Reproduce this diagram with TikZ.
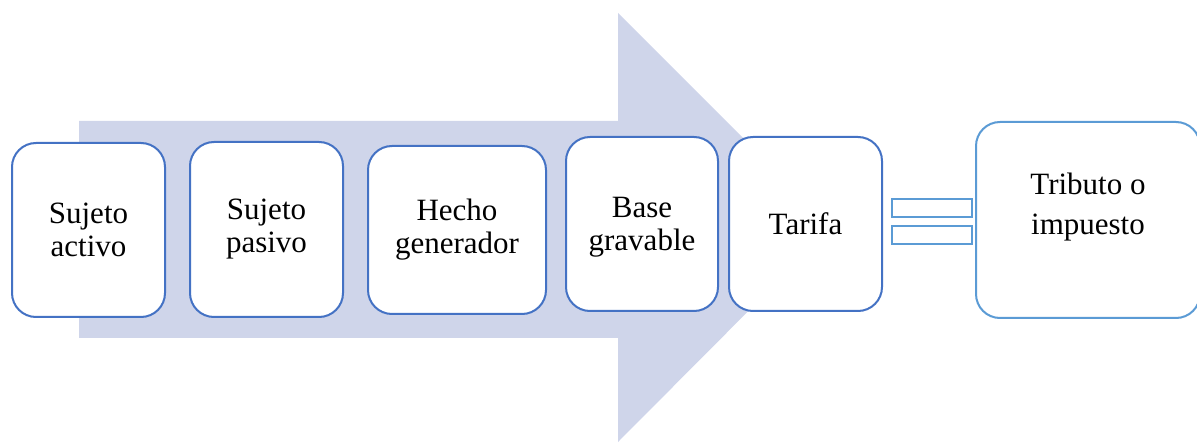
\documentclass[tikz,border=0pt]{standalone}
\usepackage{fontspec}
\setmainfont{Liberation Serif}
\definecolor{arrowfill}{RGB}{207,213,234}
\definecolor{boxblue}{RGB}{68,114,196}
\definecolor{lightblue}{RGB}{91,155,213}
\begin{document}
\begin{tikzpicture}[x=1pt,y=1pt,
  stepbox/.style={draw=boxblue, line width=2pt, fill=white, rounded corners=24pt,
    align=center, inner sep=0pt, font=\fontsize{31}{33}\selectfont},
  resultbox/.style={stepbox, draw=lightblue},
  boxtext/.style={align=center, inner sep=0pt, font=\fontsize{31}{40}\selectfont},
  eqbar/.style={draw=lightblue, line width=2pt, fill=white, inner sep=0pt,
    minimum width=80pt, minimum height=18pt}]
\useasboundingbox (0,0) rectangle (1197,442);
\begin{scope}
\clip (0,0) rectangle (1197,442);
\fill[arrowfill] (79,442-121) -- (618,442-121) -- (618,442-13) -- (832,442-227)
  -- (618,442-442) -- (618,442-338) -- (79,442-338) -- cycle;
\end{scope}
\node[stepbox, minimum width=153pt, minimum height=174pt] (sa) at (88.5,442-230) {Sujeto\\activo};
\node[stepbox, minimum width=153pt, minimum height=175pt] (sp) at (266.5,442-229.5) {Sujeto\\pasivo};
\node[stepbox, minimum width=178pt, minimum height=168pt] (hg) at (457,442-230) {Hecho\\generador};
\node[stepbox, minimum width=152pt, minimum height=174pt] (bg) at (642,442-224) {};
\node[boxtext, font=\fontsize{31}{33}\selectfont] (bgt) at ([yshift=-3pt]bg.center) {Base\\gravable};
\node[stepbox, minimum width=153pt, minimum height=174pt] (ta) at (805.5,442-224) {Tarifa};
\begin{scope}
\clip (0,0) rectangle (1197,442);
\node[resultbox, minimum width=224pt, minimum height=196pt] (ti) at (1088,442-220) {};
\end{scope}
\node[boxtext] (tit) at ([yshift=13pt]ti.center) {Tributo o\\impuesto};
\node[eqbar] (e1) at (932,442-208.5) {};
\node[eqbar] (e2) at (932,442-235.5) {};
\end{tikzpicture}
\end{document}
